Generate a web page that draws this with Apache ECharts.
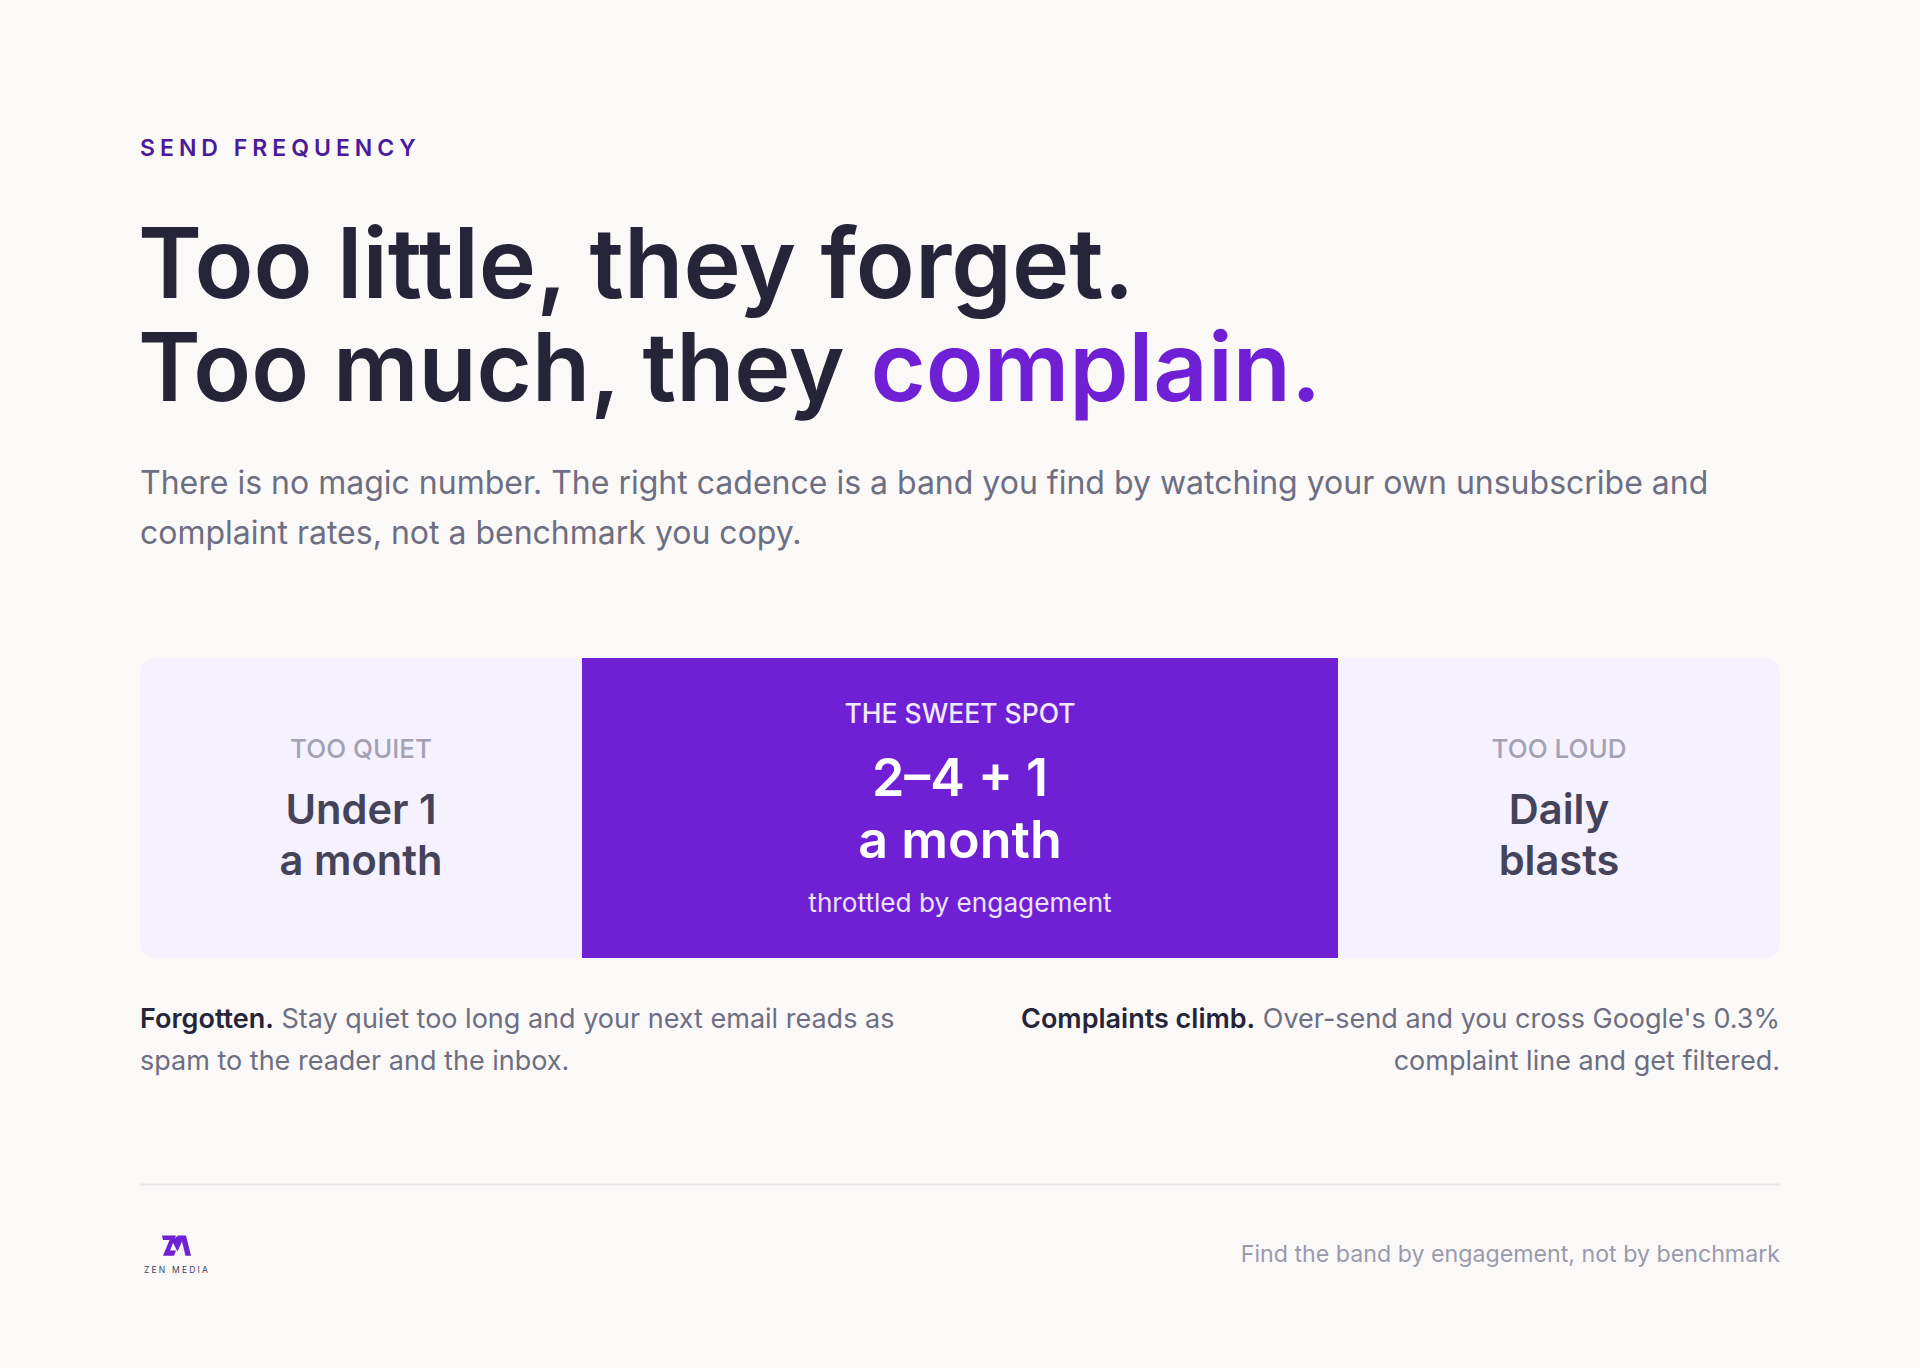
<!DOCTYPE html>
<html>
<head>
<meta charset="utf-8">
<style>
  html, body { margin: 0; padding: 0; background: #faf9f7; }
  #chart { width: 1920px; height: 1368px; }
  /* letter spacing has no chart option, so it goes on the svg text by font size */
  #chart text[style*="23px"] { letter-spacing: 5px; }
  #chart text[style*="8.5px"] { letter-spacing: 2.2px; }
</style>
<script src="https://cdn.jsdelivr.net/npm/echarts@6/dist/echarts.min.js"></script>
</head>
<body>
<div id="chart"></div>
<script>
const bandLabels = ['TOO QUIET', 'THE SWEET SPOT', 'TOO LOUD']
const bandShares = [26.95, 46.1, 26.95]
const bandHeadlines = ['Under 1\na month', '2–4 + 1\na month', 'Daily\nblasts']
const bandNotes = ['', 'throttled by engagement', '']
const bandFills = ['#f5f1ff', '#6f20d4', '#f5f1ff']

const eyebrow = 'SEND FREQUENCY'
const headlineLines = ['Too little, they forget.', 'Too much, they ', 'complain.']
const introLines = [
  'There is no magic number. The right cadence is a band you find by watching your own unsubscribe and',
  'complaint rates, not a benchmark you copy.'
]
const leftNote = ['Forgotten.', ' Stay quiet too long and your next email reads as', 'spam to the reader and the inbox.']
const rightNote = ['Complaints climb.', " Over-send and you cross Google's 0.3%", 'complaint line and get filtered.']
const footerNote = 'Find the band by engagement, not by benchmark'

const dark = '#252438'
const grey = '#6e6e82'
const font = 'Inter'

function bandLabel (i) {
  const hot = i === 1
  const parts = ['{tag' + (hot ? 'Hot' : '') + '|' + bandLabels[i] + '}']
  bandHeadlines[i].split('\n').forEach(line => {
    parts.push('{head' + (hot ? 'Hot' : '') + '|' + line + '}')
  })
  if (bandNotes[i]) parts.push('{note|' + bandNotes[i] + '}')
  return parts.join('\n')
}

const series = bandLabels.map((name, i) => ({
  name: name,
  type: 'bar',
  stack: 'band',
  barWidth: '100%',
  silent: true,
  data: [bandShares[i]],
  itemStyle: {
    color: bandFills[i],
    borderRadius: i === 0 ? [14, 0, 0, 14] : i === 2 ? [0, 14, 14, 0] : 0
  },
  label: {
    show: true,
    position: 'inside',
    align: 'center',
    verticalAlign: 'middle',
    offset: [0, i === 1 ? -1 : -9],
    formatter: bandLabel(i),
    rich: {
      tag: { fontFamily: font, fontSize: 26, fontWeight: 500, color: '#a3a1b3', lineHeight: 71 },
      head: { fontFamily: font, fontSize: 41.6, fontWeight: 600, color: '#45435a', lineHeight: 51 },
      tagHot: { fontFamily: font, fontSize: 26.5, fontWeight: 500, color: '#f1e9ff', lineHeight: 68 },
      headHot: { fontFamily: font, fontSize: 52, fontWeight: 600, color: '#ffffff', lineHeight: 61.5 },
      note: { fontFamily: font, fontSize: 26.2, fontWeight: 400, color: '#ebe2fb', lineHeight: 65.5 }
    }
  }
}))

function noteRich (align) {
  return {
    b: { fontFamily: font, fontSize: 27, fontWeight: 600, color: dark, lineHeight: 42, align: align },
    r: { fontFamily: font, fontSize: 27, fontWeight: 400, color: grey, lineHeight: 42, align: align }
  }
}

const option = {
  backgroundColor: '#faf9f7',
  animation: false,
  grid: { left: 140, top: 658, width: 1640, height: 300 },
  xAxis: { type: 'value', min: 0, max: 100, show: false },
  yAxis: { type: 'category', data: ['cadence'], show: false },
  series: series,
  title: [
    {
      text: eyebrow,
      left: 140,
      top: 133.5,
      padding: 0,
      textStyle: { fontFamily: font, fontSize: 23, fontWeight: 600, color: '#4a1a9a', lineHeight: 28 }
    },
    {
      text: '{a|' + headlineLines[0] + '}\n{c|' + headlineLines[1] + '}{b|' + headlineLines[2] + '}',
      left: 138,
      top: 210,
      padding: 0,
      textStyle: {
        rich: {
          a: { fontFamily: font, fontSize: 97, fontWeight: 600, color: dark, lineHeight: 104 },
          c: { fontFamily: font, fontSize: 95, fontWeight: 600, color: dark, lineHeight: 104 },
          b: { fontFamily: font, fontSize: 95, fontWeight: 600, color: '#6f20d4', lineHeight: 104 }
        }
      }
    },
    {
      text: introLines.join('\n'),
      left: 140,
      top: 457,
      padding: 0,
      textStyle: { fontFamily: font, fontSize: 32, fontWeight: 400, color: grey, lineHeight: 50 }
    },
    {
      text: '{b|' + leftNote[0] + '}{r|' + leftNote[1] + '}\n{r|' + leftNote[2] + '}',
      left: 140,
      top: 997.5,
      padding: 0,
      textStyle: { rich: noteRich('left') }
    },
    {
      text: '{b|' + rightNote[0] + '}{r|' + rightNote[1] + '}\n{r|' + rightNote[2] + '}',
      right: 140,
      top: 997.5,
      padding: 0,
      textStyle: { rich: noteRich('right') }
    },
    {
      text: footerNote,
      right: 140,
      top: 1238,
      padding: 0,
      textStyle: { fontFamily: font, fontSize: 23.2, fontWeight: 400, color: '#9a9aad', lineHeight: 32 }
    }
  ],
  graphic: [
    {
      type: 'line',
      silent: true,
      shape: { x1: 140, y1: 1184.5, x2: 1780, y2: 1184.5 },
      style: { stroke: '#e8e6ea', lineWidth: 2 }
    },
    // logo mark, Z then M
    {
      type: 'polygon',
      silent: true,
      shape: { points: [[162, 1235.5], [176, 1235.5], [170, 1250.5], [176, 1250.5], [174, 1255.7], [163, 1255.7], [169.5, 1240], [163, 1240]] },
      style: { fill: '#6f20d4' }
    },
    {
      type: 'polygon',
      silent: true,
      shape: { points: [[172, 1241], [178, 1235.5], [186, 1235.5], [191, 1255.7], [185.5, 1255.7], [182, 1241.5], [177.5, 1251.5]] },
      style: { fill: '#6f20d4' }
    },
    {
      type: 'text',
      silent: true,
      x: 144,
      y: 1265,
      style: { text: 'ZEN MEDIA', fontFamily: font, fontSize: 8.5, fill: '#45435a' }
    }
  ]
}

const chart = echarts.init(document.getElementById('chart'), null, { renderer: 'svg', width: 1920, height: 1368 })
chart.setOption(option)
</script>
</body>
</html>
